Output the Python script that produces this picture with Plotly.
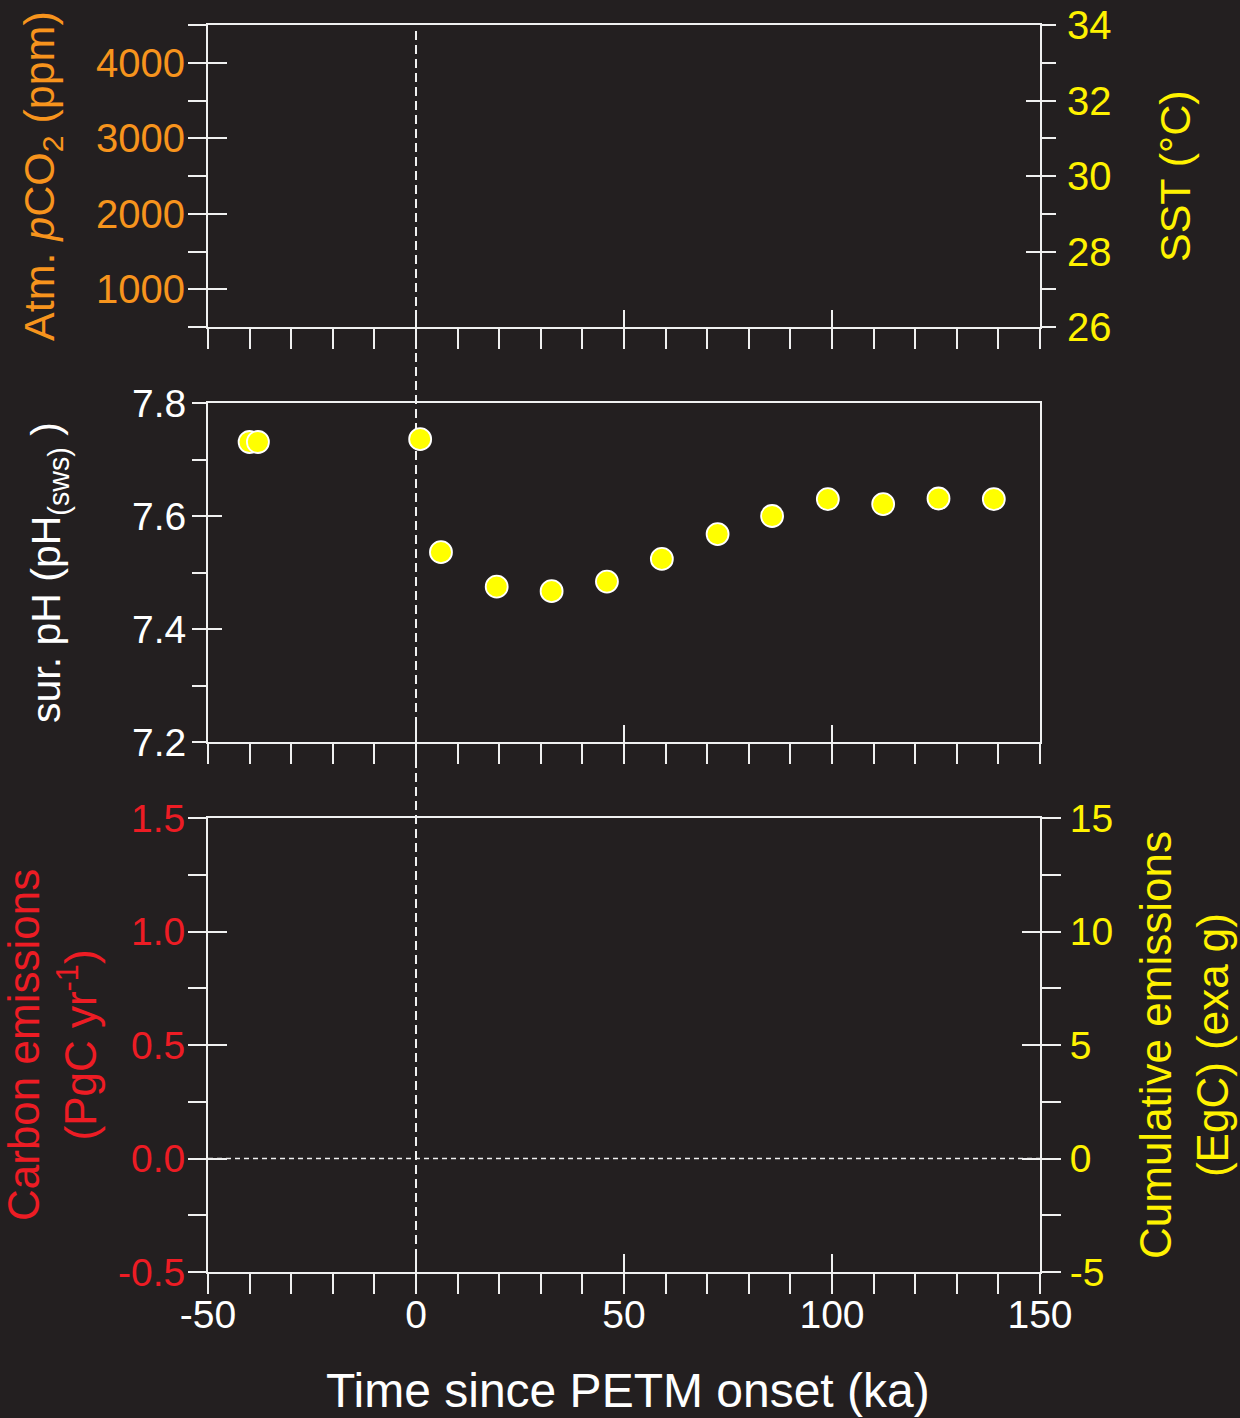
import plotly.graph_objects as go

# ---- surface pH record across the PETM ----
time_ka = [-40.0, -38.0, 1.0, 6.0, 19.4, 32.6, 45.9, 59.1, 72.5, 85.6, 99.0, 112.3, 125.6, 138.9]
surface_ph = [7.731, 7.731, 7.736, 7.536, 7.475, 7.467, 7.484, 7.524, 7.568, 7.600, 7.630, 7.621, 7.631, 7.630]

# ---- axis ranges, ticks and labels ----
time_range = [-50, 150]
time_ticks = [-50, 0, 50, 100, 150]
time_labels = ["-50", "0", "50", "100", "150"]

co2_range = [500, 4500]
co2_ticks = [1000, 2000, 3000, 4000]
co2_labels = ["1000", "2000", "3000", "4000"]

sst_range = [26, 34]
sst_ticks = [26, 28, 30, 32, 34]
sst_labels = ["26", "28", "30", "32", "34"]

ph_range = [7.2, 7.8]
ph_ticks = [7.2, 7.4, 7.6, 7.8]
ph_labels = ["7.2", "7.4", "7.6", "7.8"]

emis_range = [-0.5, 1.5]
emis_ticks = [-0.5, 0.0, 0.5, 1.0, 1.5]
emis_labels = ["-0.5", "0.0", "0.5", "1.0", "1.5"]

cum_range = [-5, 15]
cum_ticks = [-5, 0, 5, 10, 15]
cum_labels = ["-5", "0", "5", "10", "15"]

onset_time = 0
zero_emission = 0

# ---- style ----
W, H = 1240, 1418
BG = "#231f20"
LINE = "#f0f0f0"
ORANGE = "#f7941d"
RED = "#ed1c24"
YELLOW = "#fff200"
WHITE = "#ffffff"
FONT = "Liberation Sans, Arial, Helvetica, sans-serif"


def px_x(p):
    return p / W


def px_y(p):
    return 1 - p / H


X_DOM = [px_x(208), px_x(1040)]
TOP_DOM = [px_y(327), px_y(25)]
MID_DOM = [px_y(742), px_y(403)]
BOT_DOM = [px_y(1272), px_y(818)]


def base_axis(rng, ticks, labels, out_len, minor_tick0, minor_dtick, color,
              size, show_labels=True, mirror=True, standoff=None, **kw):
    ax = dict(
        range=rng, showline=True, linecolor=LINE, linewidth=2, mirror=mirror,
        ticks="outside", ticklen=out_len, tickwidth=2, tickcolor=LINE,
        tickmode="array", tickvals=ticks, ticktext=labels,
        showticklabels=show_labels,
        tickfont=dict(family=FONT, size=size, color=color),
        minor=dict(ticks="outside", ticklen=out_len, tickwidth=2, tickcolor=LINE,
                   tickmode="linear", tick0=minor_tick0, dtick=minor_dtick,
                   showgrid=False),
        showgrid=False, zeroline=False, fixedrange=True, automargin=False,
    )
    if standoff is not None:
        ax["ticklabelstandoff"] = standoff
    ax.update(kw)
    return ax


def inner_axis(rng, ticks, in_len, **kw):
    ax = dict(
        range=rng, showline=False, ticks="inside", ticklen=in_len, tickwidth=2,
        tickcolor=LINE, tickmode="array", tickvals=ticks, showticklabels=False,
        showgrid=False, zeroline=False, fixedrange=True, automargin=False,
    )
    ax.update(kw)
    return ax


layout = dict(
    width=W, height=H,
    margin=dict(l=0, r=0, t=0, b=0, pad=0, autoexpand=False),
    paper_bgcolor=BG, plot_bgcolor="rgba(0,0,0,0)",
    showlegend=False,
    font=dict(family=FONT, color=WHITE),
)

# top panel: atmospheric pCO2 (left) and SST (right)
layout["xaxis"] = base_axis(time_range, time_ticks, time_labels, 20, 0, 10, WHITE, 40,
                            show_labels=False, domain=X_DOM, anchor="y")
layout["xaxis4"] = inner_axis(time_range, time_ticks, 17, overlaying="x", anchor="y")
layout["yaxis"] = base_axis(co2_range, co2_ticks, co2_labels, 18, 0, 500, ORANGE, 40,
                            standoff=-5, domain=TOP_DOM, anchor="x", side="left")
layout["yaxis6"] = inner_axis(co2_range, co2_ticks, 19, overlaying="y", anchor="x", side="left")
layout["yaxis2"] = base_axis(sst_range, sst_ticks, sst_labels, 14, 0, 1, YELLOW, 40,
                             mirror=False, standoff=3, overlaying="y", anchor="x", side="right")
layout["yaxis7"] = inner_axis(sst_range, sst_ticks, 14, overlaying="y", anchor="x", side="right")

# middle panel: surface pH
layout["xaxis2"] = base_axis(time_range, time_ticks, time_labels, 20, 0, 10, WHITE, 40,
                             show_labels=False, domain=X_DOM, anchor="y3")
layout["xaxis5"] = inner_axis(time_range, time_ticks, 17, overlaying="x2", anchor="y3")
layout["yaxis3"] = base_axis(ph_range, ph_ticks, ph_labels, 14, 7.2, 0.1, WHITE, 39,
                             standoff=-2, domain=MID_DOM, anchor="x2", side="left")
layout["yaxis8"] = inner_axis(ph_range, ph_ticks, 14, overlaying="y3", anchor="x2", side="left")

# bottom panel: emission rate (left) and cumulative emissions (right)
layout["xaxis3"] = base_axis(time_range, time_ticks, time_labels, 20, 0, 10, WHITE, 39,
                             standoff=-13, domain=X_DOM, anchor="y4")
layout["xaxis6"] = inner_axis(time_range, time_ticks, 18, overlaying="x3", anchor="y4")
layout["yaxis4"] = base_axis(emis_range, emis_ticks, emis_labels, 18, 0, 0.25, RED, 39,
                             standoff=-5, domain=BOT_DOM, anchor="x3", side="left")
layout["yaxis9"] = inner_axis(emis_range, emis_ticks, 19, overlaying="y4", anchor="x3", side="left")
layout["yaxis5"] = base_axis(cum_range, cum_ticks, cum_labels, 19, 0, 2.5, YELLOW, 39,
                             mirror=False, standoff=1, overlaying="y4", anchor="x3", side="right")
layout["yaxis10"] = inner_axis(cum_range, cum_ticks, 18, overlaying="y4", anchor="x3", side="right")

fig = go.Figure(layout=layout)

# empty traces keep every axis pair registered as a subplot
for xa, ya in [("x", "y"), ("x", "y2"), ("x", "y6"), ("x", "y7"), ("x4", "y"),
               ("x2", "y8"), ("x5", "y3"),
               ("x3", "y4"), ("x3", "y5"), ("x3", "y9"), ("x3", "y10"), ("x6", "y4")]:
    fig.add_trace(go.Scatter(x=[], y=[], xaxis=xa, yaxis=ya, hoverinfo="skip",
                             showlegend=False))

# surface pH points
fig.add_trace(go.Scatter(
    x=time_ka, y=surface_ph, xaxis="x2", yaxis="y3", mode="markers",
    marker=dict(size=22, color="#ffff00", line=dict(color=WHITE, width=1.8)),
    cliponaxis=False, showlegend=False,
))

# PETM onset marker spanning all three panels
fig.add_shape(type="line", xref="x", yref="paper",
              x0=onset_time, x1=onset_time, y0=BOT_DOM[0], y1=px_y(28),
              line=dict(color=LINE, width=2, dash="9px,5px"), layer="below")
# zero-emission reference line
fig.add_shape(type="line", xref="x3", yref="y4",
              x0=time_range[0], x1=time_range[1], y0=zero_emission, y1=zero_emission,
              line=dict(color=LINE, width=1.5, dash="5px,4px"), layer="below")


def title(text, x, y, color, size, angle=-90):
    fig.add_annotation(text=text, xref="paper", yref="paper", x=px_x(x), y=px_y(y),
                       xanchor="center", yanchor="middle", showarrow=False,
                       textangle=angle, font=dict(family=FONT, size=size, color=color))


title("Atm. <i>p</i>CO<sub>2</sub> (ppm)", 42, 176, ORANGE, 43)
title("SST (°C)", 1175, 176, YELLOW, 43)
title("sur. pH (pH<sub>(sws)</sub> )", 49, 573, WHITE, 41)
title("Carbon emissions<br>(PgC yr<sup>-1</sup>)", 52, 1045, RED, 44)
title("Cumulative emissions<br>(EgC) (exa g)", 1184, 1045, YELLOW, 44)
title("Time since PETM onset (ka)", 628, 1390, WHITE, 48, angle=0)

fig.write_html("out.html")
